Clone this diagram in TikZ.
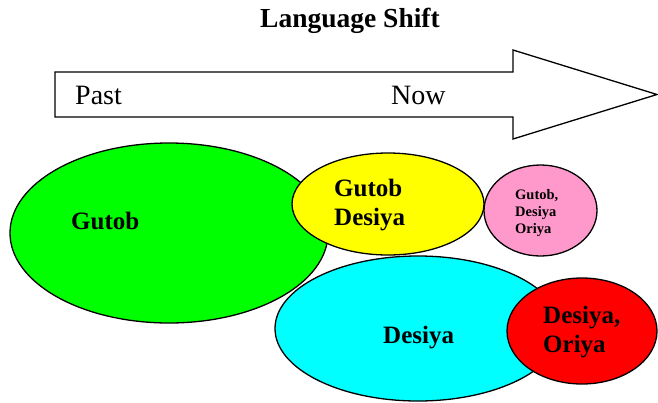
\documentclass[tikz,border=0pt]{standalone}
\usepackage{fontspec}
\setmainfont{Liberation Serif}
\usepackage{tikz}
\usetikzlibrary{shapes,positioning}
\usepackage{xcolor}
\definecolor{lsgreen}{RGB}{0,255,0}
\definecolor{lsyellow}{RGB}{255,255,0}
\definecolor{lspink}{RGB}{255,153,204}
\definecolor{lscyan}{RGB}{0,255,255}
\definecolor{lsred}{RGB}{255,0,0}
\tikzstyle{lang} = [ellipse, draw=black, line width=1.3pt, inner sep=0pt]
\tikzstyle{langtext} = [inner sep=0pt, align=left, font=\fontsize{25}{29}\selectfont\bfseries]
\tikzstyle{timetext} = [inner sep=0pt, anchor=base west, font=\fontsize{28}{32}\selectfont]

\begin{document}
\begin{tikzpicture}[x=1pt, y=-1pt]
\useasboundingbox (0,0) rectangle (658,402);
% Title
\node (title) [anchor=base, inner sep=0pt, font=\fontsize{27.5}{32}\selectfont\bfseries] at (350,27) {Language Shift};

% Time arrow
\draw[line width=1.3pt, fill=white] (55,72) -- (513,72) -- (513,50) -- (657,94.5)
  -- (513,139) -- (513,117) -- (55,117) -- cycle;
\node (past) [timetext] at (75,104) {Past};
\node (now) [timetext] at (391,104) {Now};

% Languages
\node (gutob) [lang, fill=lsgreen, minimum width=318pt, minimum height=180pt] at (169,233) {};
\node (gutobdesiya) [lang, fill=lsyellow, minimum width=192pt, minimum height=102pt] at (388,204) {};
\node (trilingual) [lang, fill=lspink, minimum width=113pt, minimum height=91pt] at (540.5,210.5) {};
\node (desiya) [lang, fill=lscyan, minimum width=286pt, minimum height=145pt] at (418,328.5) {};
\node (desiyaoriya) [lang, fill=lsred, minimum width=150pt, minimum height=106pt] at (582,331) {};

% Labels
\node (gutoblbl) [langtext, anchor=base west] at (71,229) {Gutob};
\node (gutobdesiyalbl) [langtext, anchor=north west] at (334,179) {Gutob\\Desiya};
\node (trilinguallbl) [langtext, anchor=north west, font=\fontsize{14.5}{17}\selectfont\bfseries] at (515,189) {Gutob,\\Desiya\\Oriya};
\node (desiyalbl) [langtext, anchor=base west] at (383,343) {Desiya};
\node (desiyaoriyalbl) [langtext, anchor=north west] at (543,306) {Desiya,\\Oriya};
\end{tikzpicture}
\end{document}
